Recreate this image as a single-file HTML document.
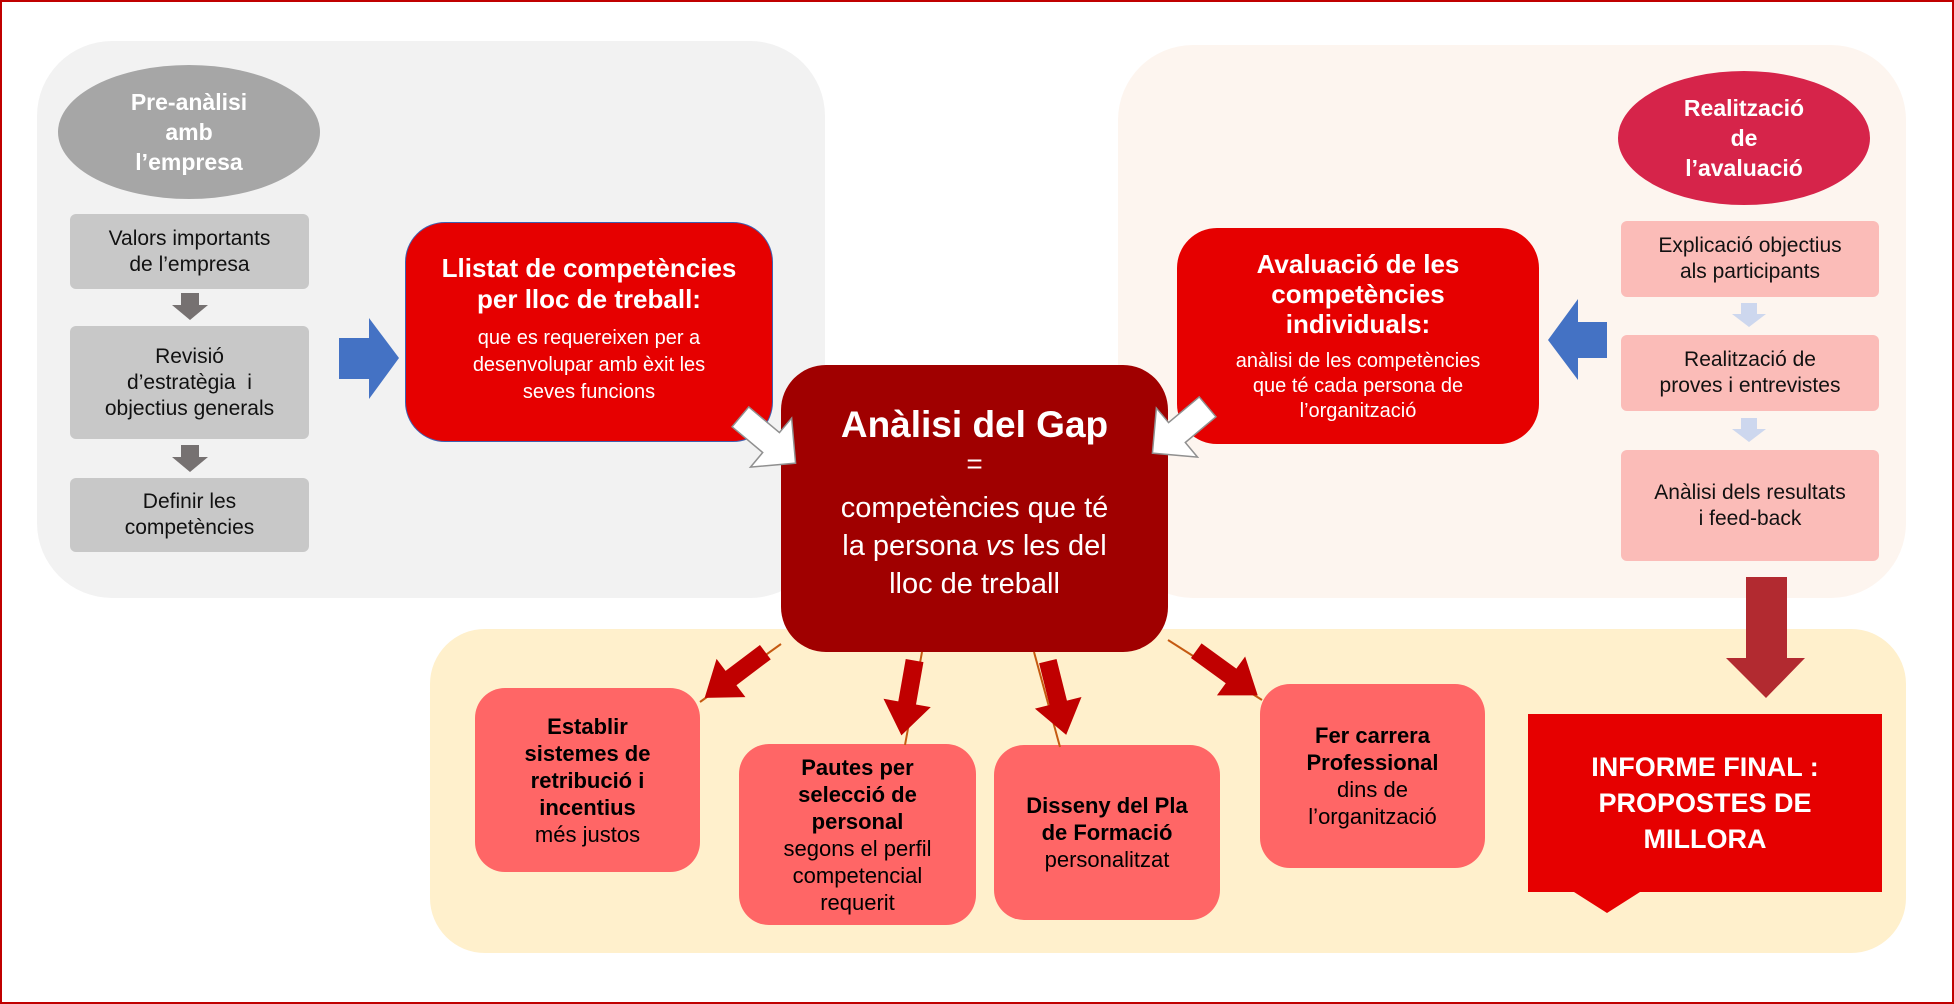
<!DOCTYPE html>
<html><head><meta charset="utf-8"><style>
body{margin:0;width:1954px;height:1004px;position:relative;background:#fff;font-family:"Liberation Sans",sans-serif;overflow:hidden}
.a{position:absolute;box-sizing:border-box;display:flex;flex-direction:column;align-items:center;justify-content:center;text-align:center}
.g{background:#c8c8c8;border-radius:6px;color:#111;font-size:21px;line-height:26px}
.p{background:#fbbcb8;border-radius:6px;color:#111;font-size:21px;line-height:26px}
.b{background:#ff6666;border-radius:30px;color:#000;font-size:22px;line-height:27px}
.b b{font-size:22px}
</style></head><body>
<div class="a" style="left:0;top:0;width:1954px;height:1004px;border:2px solid #c00000"></div>
<div class="a" style="left:37px;top:41px;width:788px;height:557px;background:#f2f2f2;border-radius:75px"></div>
<div class="a" style="left:1118px;top:45px;width:788px;height:553px;background:#fdf5ef;border-radius:75px"></div>
<div class="a" style="left:430px;top:629px;width:1476px;height:324px;background:#fff0cc;border-radius:55px"></div>

<div class="a" style="left:58px;top:65px;width:262px;height:134px;background:#a6a6a6;border-radius:50%;color:#fff;font-weight:bold;font-size:23px;line-height:30px">Pre-anàlisi<br>amb<br>l’empresa</div>
<div class="a g" style="left:70px;top:214px;width:239px;height:75px">Valors importants<br>de l’empresa</div>
<div class="a g" style="left:70px;top:326px;width:239px;height:113px">Revisió<br>d’estratègia&nbsp; i<br>objectius generals</div>
<div class="a g" style="left:70px;top:478px;width:239px;height:74px">Definir les<br>competències</div>

<div class="a" style="left:405px;top:222px;width:368px;height:220px;background:#e60000;border-radius:40px;border:1px solid #4060b0;color:#fff;justify-content:flex-start;padding-top:30px">
<div style="font-weight:bold;font-size:26px;line-height:31px">Llistat de competències<br>per lloc de treball:</div>
<div style="font-size:20px;line-height:27px;margin-top:10px">que es requereixen per a<br>desenvolupar amb èxit les<br>seves funcions</div></div>

<div class="a" style="left:781px;top:365px;width:387px;height:287px;background:#a00000;border-radius:45px;color:#fff;justify-content:flex-start;padding-top:38px">
<div style="font-weight:bold;font-size:37px;line-height:44px">Anàlisi del Gap</div>
<div style="font-size:28px;line-height:34px">=</div>
<div style="font-size:29px;line-height:38px;margin-top:8px">competències que té<br>la persona <i>vs</i> les del<br>lloc de treball</div></div>

<div class="a" style="left:1177px;top:228px;width:362px;height:216px;background:#e60000;border-radius:40px;color:#fff">
<div style="font-weight:bold;font-size:26px;line-height:30px">Avaluació de les<br>competències<br>individuals:</div>
<div style="font-size:20px;line-height:25px;margin-top:10px">anàlisi de les competències<br>que té cada persona de<br>l’organització</div></div>

<div class="a" style="left:1618px;top:71px;width:252px;height:134px;background:#d6244a;border-radius:50%;color:#fff;font-weight:bold;font-size:23px;line-height:30px">Realització<br>de<br>l’avaluació</div>
<div class="a p" style="left:1621px;top:221px;width:258px;height:76px">Explicació objectius<br>als participants</div>
<div class="a p" style="left:1621px;top:335px;width:258px;height:76px">Realització de<br>proves i entrevistes</div>
<div class="a p" style="left:1621px;top:450px;width:258px;height:111px">Anàlisi dels resultats<br>i feed-back</div>

<div class="a b" style="left:475px;top:688px;width:225px;height:184px"><b>Establir<br>sistemes de<br>retribució i<br>incentius</b>més justos</div>
<div class="a b" style="left:739px;top:744px;width:237px;height:181px"><b>Pautes per<br>selecció de<br>personal</b>segons el perfil<br>competencial<br>requerit</div>
<div class="a b" style="left:994px;top:745px;width:226px;height:175px"><b>Disseny del Pla<br>de Formació</b>personalitzat</div>
<div class="a b" style="left:1260px;top:684px;width:225px;height:184px"><b>Fer carrera<br>Professional</b>dins de<br>l’organització</div>

<svg width="1954" height="1004" style="position:absolute;left:0;top:0">
<polygon points="1528,714 1882,714 1882,892 1640,892 1607,913 1574,892 1528,892" fill="#e60000"/>
<g fill="#767171">
<polygon points="181,293 199,293 199,305 208,305 190,320 172,305 181,305"/>
<polygon points="181,445 199,445 199,457 208,457 190,472 172,457 181,457"/>
</g>
<g fill="#cdd7ee">
<polygon points="1741,303 1757,303 1757,314 1766,314 1749,327 1732,314 1741,314"/>
<polygon points="1741,418 1757,418 1757,429 1766,429 1749,442 1732,429 1741,429"/>
</g>
<polygon points="339,338 369,338 369,318 399,358 369,399 369,379 339,379" fill="#4472c4"/>
<polygon points="1607,322 1578,322 1578,299 1548,340 1578,380 1578,358 1607,358" fill="#4472c4"/>
<polygon points="1746,577 1787,577 1787,658 1805,658 1766,698 1726,658 1746,658" fill="#b22a30"/>
<g fill="#fff" stroke="#909090" stroke-width="1.5">
<polygon points="-36,-13 4,-13 4,-32 36,0 4,32 4,13 -36,13" transform="translate(768,440) rotate(40)"/>
<polygon points="-36,-13 4,-13 4,-32 36,0 4,32 4,13 -36,13" transform="translate(1180,430) rotate(140)"/>
</g>
<g stroke="#c55a11" stroke-width="2">
<line x1="781" y1="644" x2="700" y2="702"/>
<line x1="922" y1="652" x2="905" y2="745"/>
<line x1="1034" y1="652" x2="1060" y2="747"/>
<line x1="1168" y1="640" x2="1262" y2="700"/>
</g>
<g fill="#c00000">
<polygon points="-38,-9 5,-9 5,-24 38,0 5,24 5,9 -38,9" transform="translate(735,675) rotate(143)"/>
<polygon points="-38,-9 5,-9 5,-24 38,0 5,24 5,9 -38,9" transform="translate(908,698) rotate(100)"/>
<polygon points="-38,-9 5,-9 5,-24 38,0 5,24 5,9 -38,9" transform="translate(1057,698) rotate(76)"/>
<polygon points="-38,-9 5,-9 5,-24 38,0 5,24 5,9 -38,9" transform="translate(1227,673) rotate(36)"/>
</g>
</svg>
<div class="a" style="left:1528px;top:714px;width:354px;height:178px;color:#fff;font-weight:bold;font-size:27px;line-height:36px">INFORME FINAL :<br>PROPOSTES DE<br>MILLORA</div>
</body></html>
